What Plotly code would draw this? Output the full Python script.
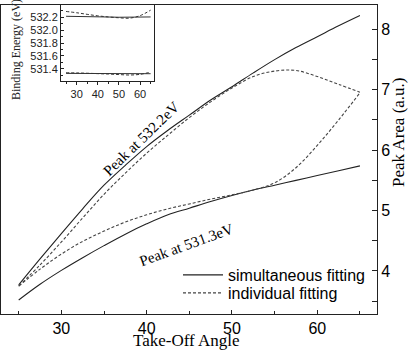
import plotly.graph_objects as go

# ---------------- data ----------------
angle = [25, 27.5, 30, 32.5, 35, 37.5, 40, 42.5, 45, 47.5, 50, 52.5, 55, 57.5, 60, 62.5, 65]

# Peak at 532.2 eV
high_simultaneous = [3.77, 4.20, 4.62, 5.03, 5.42, 5.75, 6.06, 6.33, 6.58, 6.83, 7.05, 7.28, 7.50, 7.70, 7.88, 8.06, 8.23]
high_individual   = [3.75, 4.10, 4.48, 4.88, 5.27, 5.62, 5.95, 6.25, 6.54, 6.80, 7.03, 7.22, 7.31, 7.32, 7.22, 7.09, 6.96]
# Peak at 531.3 eV
low_simultaneous  = [3.52, 3.78, 4.01, 4.22, 4.42, 4.61, 4.78, 4.93, 5.04, 5.15, 5.25, 5.34, 5.42, 5.50, 5.58, 5.66, 5.74]
low_individual    = [3.75, 4.03, 4.28, 4.49, 4.66, 4.81, 4.93, 5.03, 5.11, 5.19, 5.26, 5.34, 5.46, 5.71, 6.08, 6.50, 6.95]

# inset: binding energies
inset_angle = [25, 30, 35, 40, 45, 50, 55, 60, 65]
be_high_simultaneous = [532.215, 532.215, 532.212, 532.208, 532.204, 532.200, 532.200, 532.203, 532.205]
be_high_individual   = [532.29, 532.27, 532.245, 532.222, 532.205, 532.192, 532.186, 532.225, 532.31]
be_low_simultaneous  = [531.33, 531.33, 531.328, 531.325, 531.323, 531.322, 531.322, 531.323, 531.325]
be_low_individual    = [531.34, 531.337, 531.332, 531.326, 531.32, 531.312, 531.305, 531.315, 531.35]

W, H = 408, 351
SERIF = "Liberation Serif"
SANS = "Liberation Sans"

solid = dict(color="#222222", width=1.1, shape="spline")
dashed = dict(color="#444444", width=1.1, dash="3px,2px", shape="spline")

fig = go.Figure()

# main curves
fig.add_trace(go.Scatter(x=angle, y=high_simultaneous, mode="lines", line=solid,
                         name="simultaneous fitting", legendgroup="s", showlegend=True,
                         legend="legend", xaxis="x", yaxis="y"))
fig.add_trace(go.Scatter(x=angle, y=low_simultaneous, mode="lines", line=solid,
                         name="simultaneous fitting", legendgroup="s", showlegend=False,
                         xaxis="x", yaxis="y"))
fig.add_trace(go.Scatter(x=angle, y=high_individual, mode="lines", line=dashed,
                         name="individual fitting", legendgroup="i", showlegend=True,
                         legend="legend2", xaxis="x", yaxis="y"))
fig.add_trace(go.Scatter(x=angle, y=low_individual, mode="lines", line=dashed,
                         name="individual fitting", legendgroup="i", showlegend=False,
                         legend="legend2", xaxis="x", yaxis="y"))

# inset curves
ins_solid = dict(color="#333333", width=1.0)
ins_dash = dict(color="#333333", width=1.0, dash="3px,2px", shape="spline")
for ys, ln in [(be_high_simultaneous, ins_solid), (be_low_simultaneous, ins_solid),
               (be_high_individual, ins_dash), (be_low_individual, ins_dash)]:
    fig.add_trace(go.Scatter(x=inset_angle, y=ys, mode="lines", line=ln,
                             showlegend=False, xaxis="x2", yaxis="y2"))

axis_common = dict(showline=True, linecolor="#222222", linewidth=1, mirror=True,
                   showgrid=False, zeroline=False, tickcolor="#222222")

legend_common = dict(xanchor="left", yanchor="top", bgcolor="rgba(0,0,0,0)",
                     borderwidth=0, itemwidth=40,
                     font=dict(family=SANS, size=16, color="black"))

fig.update_layout(
    width=W, height=H,
    margin=dict(l=0, r=0, t=0, b=0),
    paper_bgcolor="white", plot_bgcolor="white",
    xaxis=dict(**axis_common, domain=[1 / W, 377 / W], range=[22.925, 67.0],
               tickvals=[30, 40, 50, 60], ticks="inside", ticklen=4,
               minor=dict(tickvals=[25, 35, 45, 55, 65], ticks="inside", ticklen=3, tickcolor="#222222"),
               tickfont=dict(family=SANS, size=16, color="black"), anchor="y"),
    yaxis=dict(**axis_common, domain=[(H - 313.5) / H, (H - 5) / H], range=[3.296, 8.404],
               side="right", tickvals=[4, 5, 6, 7, 8], ticks="inside", ticklen=5,
               minor=dict(tickvals=[3.5, 4.5, 5.5, 6.5, 7.5], ticks="inside", ticklen=5, tickcolor="#222222"),
               tickfont=dict(family=SANS, size=16, color="black"), anchor="x"),
    xaxis2=dict(**axis_common, domain=[61 / W, 154 / W], range=[22.6, 66.6],
                tickvals=[30, 40, 50, 60], ticks="outside", ticklen=3,
                minor=dict(tickvals=[25, 35, 45, 55, 65], ticks="outside", ticklen=2, tickcolor="#222222"),
                tickfont=dict(family=SANS, size=11, color="#222222"), anchor="y2"),
    yaxis2=dict(**axis_common, domain=[(H - 81) / H, (H - 5) / H], range=[531.212, 532.39],
                tickvals=[531.2, 531.4, 531.6, 531.8, 532.0, 532.2],
                ticktext=["531.2", "531.4", "531.6", "531.8", "532.0", "532.2"],
                ticks="inside", ticklen=3,
                minor=dict(tickvals=[531.3, 531.5, 531.7, 531.9, 532.1, 532.3], ticks="inside", ticklen=2, tickcolor="#222222"),
                tickfont=dict(family=SANS, size=11, color="#222222"), anchor="x2"),
    legend=dict(**legend_common, x=178 / W, y=1 - 258 / H),
    legend2=dict(**legend_common, x=178 / W, y=1 - 276 / H),
    showlegend=True,
)

annotations = [
    dict(text="Take-Off Angle", x=186 / W, y=0, xref="paper", yref="paper",
         showarrow=False, font=dict(family=SERIF, size=17, color="black"),
         xanchor="center", yanchor="bottom", borderpad=0),
    dict(text="Peak Area (a.u.)", x=398 / W, y=1 - 132 / H, xref="paper", yref="paper",
         showarrow=False, textangle=-90, font=dict(family=SERIF, size=17, color="black"),
         xanchor="center", yanchor="middle"),
    dict(text="Binding Energy (eV)", x=16 / W, y=1 - 50 / H, xref="paper", yref="paper",
         showarrow=False, textangle=-90, font=dict(family=SERIF, size=12, color="#222222"),
         xanchor="center", yanchor="middle"),
    dict(text="Peak at 532.2eV", x=141 / W, y=1 - 139 / H, xref="paper", yref="paper",
         showarrow=False, textangle=-44, font=dict(family=SERIF, size=15, color="black"),
         xanchor="center", yanchor="middle"),
    dict(text="Peak at 531.3eV", x=186 / W, y=1 - 245 / H, xref="paper", yref="paper",
         showarrow=False, textangle=-20, font=dict(family=SERIF, size=15, color="black"),
         xanchor="center", yanchor="middle"),
]
fig.update_layout(annotations=annotations)

fig.write_html("out.html")
